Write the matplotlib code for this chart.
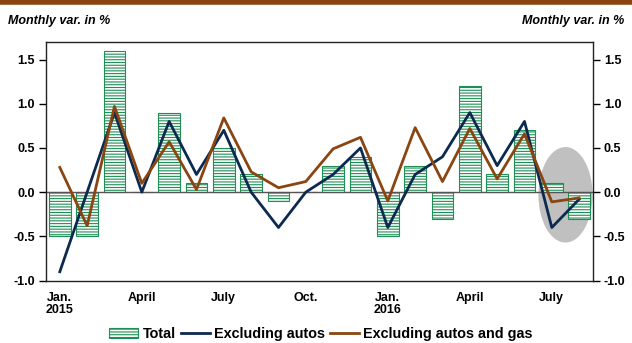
import matplotlib
matplotlib.use('Agg')
import matplotlib.pyplot as plt
from matplotlib.patches import Ellipse, Patch
from matplotlib.lines import Line2D

plt.rcParams.update({
    'font.family': ['Liberation Sans', 'DejaVu Sans'],
    'font.weight': 'bold',
    'font.size': 9,
    'hatch.linewidth': 0.8,
})

# Monthly data, Jan. 2015 - Aug. 2016
months = list(range(20))
total = [-0.5, -0.5, 1.6, 0.0, 0.9, 0.1, 0.5, 0.2, -0.1, 0.0,
         0.3, 0.4, -0.5, 0.3, -0.3, 1.2, 0.2, 0.7, 0.1, -0.3]
excl_autos = [-0.9, 0.0, 0.9, 0.0, 0.8, 0.2, 0.7, 0.0, -0.4, 0.0,
              0.2, 0.5, -0.4, 0.2, 0.4, 0.9, 0.3, 0.8, -0.4, -0.08]
excl_autos_gas = [0.28, -0.38, 0.97, 0.1, 0.57, 0.03, 0.84, 0.23, 0.05, 0.12,
                  0.49, 0.62, -0.1, 0.73, 0.12, 0.72, 0.15, 0.66, -0.11, -0.065]
tick_pos = [0, 3, 6, 9, 12, 15, 18]
tick_labels = ['Jan.\n2015', 'April', 'July', 'Oct.', 'Jan.\n2016', 'April', 'July']

green = '#1f8f55'
navy = '#0c2a4f'
brown = '#8a4510'

fig = plt.figure(figsize=(6.32, 3.43), dpi=100)
ax = fig.add_axes([0.073, 0.182, 0.865, 0.696])

# highlight of the last two months
ax.add_patch(Ellipse((18.5, -0.03), 1.98, 1.08, facecolor='#c0c0c0',
                     edgecolor='none', zorder=1))

ax.bar(months, total, width=0.8, facecolor='white', edgecolor=green,
       hatch='------', linewidth=0.8, zorder=2)
ax.axhline(0, color='#555555', linewidth=1.0, zorder=2.5)
ax.plot(months, excl_autos, color=navy, linewidth=2.0, zorder=3)
ax.plot(months, excl_autos_gas, color=brown, linewidth=2.0, zorder=4)

ax.set_xlim(-0.5, 19.5)
ax.set_ylim(-1.0, 1.7)
ax.set_yticks([-1.0, -0.5, 0.0, 0.5, 1.0, 1.5])
ax.set_yticklabels(['%.1f' % v for v in [-1.0, -0.5, 0.0, 0.5, 1.0, 1.5]])
ax.set_xticks(tick_pos)
ax.set_xticklabels(tick_labels, fontweight='bold', linespacing=1.0)
ax.tick_params(axis='x', length=0, pad=8)
ax.tick_params(axis='y', direction='out', length=5, width=1,
               right=True, labelright=True, pad=3)
for lab in ax.get_yticklabels():
    lab.set_fontweight('bold')
for s in ax.spines.values():
    s.set_linewidth(1.0)
    s.set_color('#222222')

# top brown rule and axis titles
fig.add_artist(Line2D([0, 1], [0.995, 0.995], color='#8a4510', linewidth=4,
                      transform=fig.transFigure))
fig.text(0.012, 0.94, 'Monthly var. in %', style='italic', fontweight='bold',
         fontsize=9, va='center', ha='left')
fig.text(0.988, 0.94, 'Monthly var. in %', style='italic', fontweight='bold',
         fontsize=9, va='center', ha='right')

handles = [Patch(facecolor='white', edgecolor=green, hatch='------', linewidth=0.8),
           Line2D([], [], color=navy, linewidth=2.0),
           Line2D([], [], color=brown, linewidth=2.0)]
fig.legend(handles, ['Total', 'Excluding autos', 'Excluding autos and gas'],
           loc='center', bbox_to_anchor=(0.508, 0.025), ncol=3, frameon=False,
           handlelength=2.0, handletextpad=0.3, columnspacing=0.35,
           borderpad=0, prop={'weight': 'bold', 'size': 10.4})

fig.savefig('out.png', dpi=100)
